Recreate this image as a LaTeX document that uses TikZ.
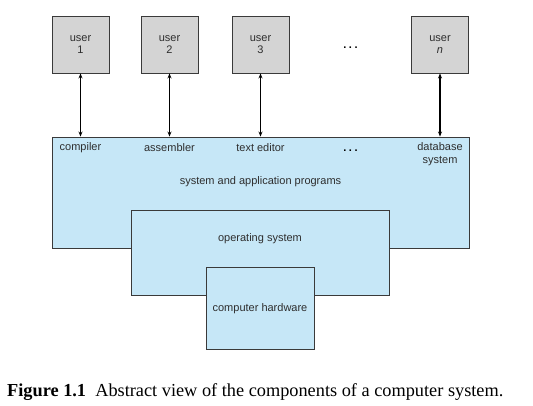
\documentclass[tikz,border=0pt]{standalone}
\usepackage{fontspec}
\setmainfont{Liberation Serif}
\setsansfont{Liberation Sans}
\usetikzlibrary{arrows.meta,positioning,calc}
\definecolor{boxblue}{HTML}{C6E7F7}
\definecolor{usergray}{HTML}{D4D4D4}
\definecolor{edgegray}{HTML}{3A3A3A}
\definecolor{inkgray}{HTML}{2E2E2E}

\tikzset{
  userbox/.style={draw=edgegray, fill=usergray, line width=0.9pt, minimum width=57pt, minimum height=57pt, inner sep=0pt, align=center, text=inkgray, font=\sffamily\fontsize{11}{12.5}\selectfont},
  layerbox/.style={draw=edgegray, fill=boxblue, line width=0.9pt, inner sep=0pt},
  layertext/.style={text=inkgray, font=\sffamily\fontsize{11}{12.5}\selectfont, align=center},
  dotstext/.style={text=black, font=\sffamily\bfseries\fontsize{11}{12.5}\selectfont},
  userlink/.style={{Stealth[length=5pt,width=4pt]}-{Stealth[length=5pt,width=4pt]}, line width=1.2pt, black}
}

\begin{document}
\begin{tikzpicture}[x=1pt, y=-1pt]
    \useasboundingbox (0,0) rectangle (533,406);

    % Users
    \node[userbox] (u1) at (80.5, 44.5) {user\\1};
    \node[userbox] (u2) at (169.5, 44.5) {user\\2};
    \node[userbox] (u3) at (260.5, 44.5) {user\\3};
    \node[userbox] (un) at (440, 44.5) {user\\\textit{n}};
    \node[dotstext] (udots) at (350.5, 48) {.\hspace{2.5pt}.\hspace{2.5pt}.};

    % Layers
    \node[layerbox, minimum width=417pt, minimum height=111pt] (apps) at (260.5, 192.5) {};
    \node[layerbox, minimum width=258pt, minimum height=85pt] (os) at (260, 252.5) {};
    \node[layerbox, minimum width=108pt, minimum height=82pt] (hw) at (260, 308) {};

    % Programs
    \node[layertext] (comp) at (80.5, 148) {compiler};
    \node[layertext] (asm) at (169.5, 148) {assembler};
    \node[layertext] (edit) at (260.5, 148) {text editor};
    \node[dotstext] (pdots) at (350.5, 151) {.\hspace{2.5pt}.\hspace{2.5pt}.};
    \node[layertext] (db) at (440, 154) {database\\system};
    \node[layertext] (appslbl) at (260.5, 182) {system and application programs};
    \node[layertext] (oslbl) at (260, 239) {operating system};
    \node[layertext] (hwlbl) at (260, 309) {computer hardware};

    % Links
    \draw[userlink] (u1.south) -- (u1.south |- apps.north);
    \draw[userlink] (u2.south) -- (u2.south |- apps.north);
    \draw[userlink] (u3.south) -- (u3.south |- apps.north);
    \draw[userlink] (un.south) -- (un.south |- apps.north);

    % Caption
    \node[anchor=base west, inner sep=0pt, font=\fontsize{18.3}{20}\selectfont] (cap) at (7, 396) {\textbf{Figure 1.1}\hspace{0.5em}Abstract view of the components of a computer system.};
\end{tikzpicture}
\end{document}
